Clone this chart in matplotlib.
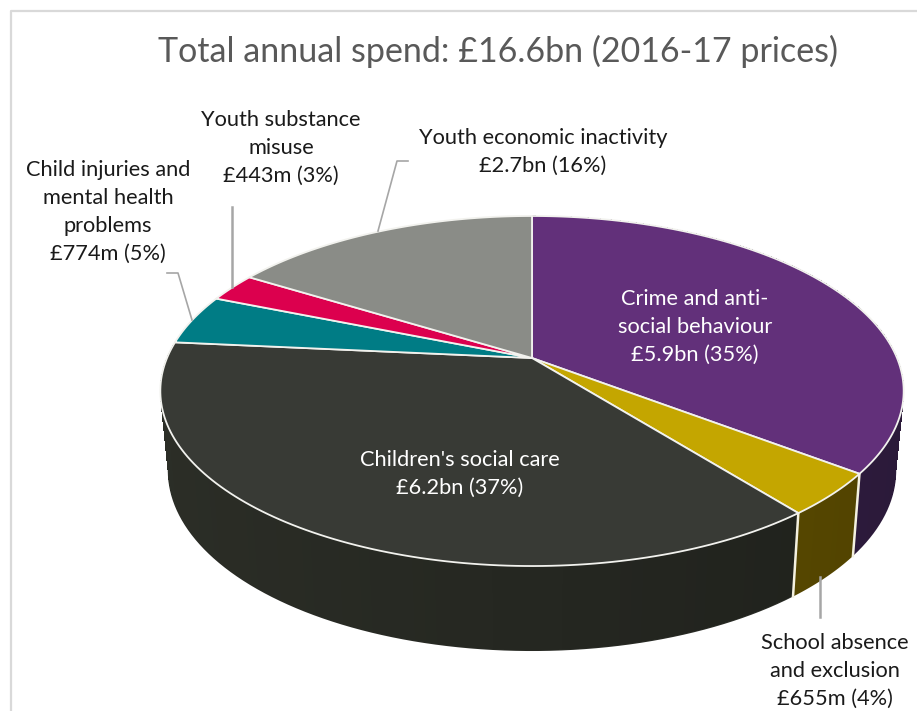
import numpy as np
from matplotlib import pyplot as plt
from matplotlib.patches import Polygon

# spend per category in GBP m, clockwise from 12 o'clock
categories = ['Crime and anti-\nsocial behaviour\n£5.9bn (35%)',
              'School absence\nand exclusion\n£655m (4%)',
              "Children's social care\n£6.2bn (37%)",
              'Child injuries and\nmental health\nproblems\n£774m (5%)',
              'Youth substance\nmisuse\n£443m (3%)',
              'Youth economic inactivity\n£2.7bn (16%)']
spend = [5900, 655, 6200, 774, 443, 2700]
top_colors = ['#62307a', '#c4a600', '#383a35', '#007c85', '#dc004e', '#8a8c87']
wall_colors = np.array([[0x34, 0x1f, 0x45], [0x60, 0x4f, 0x00], [0x25, 0x27, 0x21]]) / 255

plt.rcParams['font.family'] = ['Lato', 'DejaVu Sans']

# perspective of the disc, in pixels
cx, cy = 532, 358
ax_a, ax_b, persp = 365, 168.8, 0.1886


def rim(theta, lower=False):
    x, y = np.sin(theta), np.cos(theta)
    d = 1 + persp * y
    sx = ax_a * x / d
    sy = -ax_b * y / d
    if lower:
        # bottom face sits lower and a little narrower
        return cx + 0.98 * sx, cy + sy + 78 - 7 * y
    return cx + sx, cy + sy


fig = plt.figure(figsize=(9.17, 7.11), dpi=100)
ax = fig.add_axes([0, 0, 1, 1])
ax.set_xlim(0, 917)
ax.set_ylim(711, 0)
ax.axis('off')

# frame, open on the right and at the bottom
ax.plot([10.5, 10.5, 917], [711, 11, 11], color='#d9d9d9', lw=1.6)

edges = np.cumsum([0] + spend) / sum(spend) * 2 * np.pi

# walls of the three front slices: solid base for a clean edge, strips on top for shading
for i in range(3):
    t = np.linspace(edges[i], edges[i + 1], 90)
    xt, yt = rim(t)
    xb, yb = rim(t[::-1], lower=True)
    base = wall_colors[i] * (1 - 0.18 * np.sin(t.mean()))
    ax.add_patch(Polygon(np.column_stack([np.r_[xt, xb], np.r_[yt, yb]]), closed=True,
                         fc=base, ec='none', zorder=2))
    for a0, a1 in zip(t[:-1], t[1:]):
        xt, yt = rim(np.array([a0, a1]))
        xb, yb = rim(np.array([a1, a0]), lower=True)
        shade = np.clip(wall_colors[i] * (1 - 0.18 * np.sin(a0)), 0, 1)
        ax.add_patch(Polygon(np.column_stack([np.r_[xt, xb + 0.6 * np.sign(cx - xb)], np.r_[yt, yb - 1.5]]),
                             closed=True, fc=shade, ec='none', antialiased=False, zorder=2.5))

# seams between wall sections
for a in edges[1:3]:
    xt, yt = rim(a)
    xb, yb = rim(a, lower=True)
    ax.plot([xt, xb], [yt, yb], color='#f4f1e0', lw=1.8, zorder=3)

# top face
for i in range(len(spend)):
    t = np.linspace(edges[i], edges[i + 1], 120)
    xt, yt = rim(t)
    pts = np.column_stack([np.r_[cx, xt], np.r_[cy, yt]])
    ax.add_patch(Polygon(pts, closed=True, fc=top_colors[i], ec='#f2f2ee', lw=1.3,
                         joinstyle='round', zorder=4))

ax.text(498, 51.5, 'Total annual spend: £16.6bn (2016-17 prices)', fontsize=24.5,
        color='#595959', ha='center', va='center')

# labels
inside = {0: (695, 327), 2: (460, 474)}
outside = {1: (835, 671), 3: (108, 212), 4: (281, 148), 5: (543, 152)}
for i, (x, y) in inside.items():
    ax.text(x, y, categories[i], color='white', fontsize=15.7, ha='center', va='center',
            linespacing=1.5, zorder=6)
for i, (x, y) in outside.items():
    ax.text(x, y, categories[i], color='#1a1a1a', fontsize=15.7, ha='center', va='center',
            linespacing=1.5, zorder=6)

# leader lines
ax.plot([820, 820], [577, 617], color='#a6a6a6', lw=1.8, zorder=5)
ax.plot([231.5, 231.5], [207, 287], color='#a6a6a6', lw=1.8, zorder=5)
ax.plot([167, 178, 192], [273, 273, 320], color='#a6a6a6', lw=1.2, zorder=5)
ax.plot([408, 397, 378], [161, 161, 231], color='#a6a6a6', lw=1.2, zorder=5)

fig.savefig('out.png', dpi=100)
